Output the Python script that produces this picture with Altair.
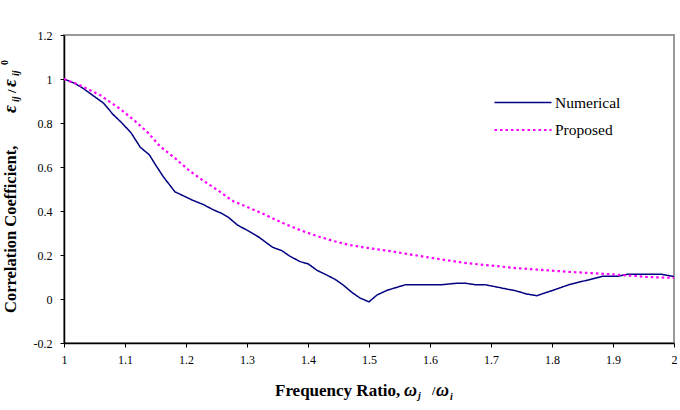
import altair as alt
import pandas as pd

FONT = "Liberation Serif"

# ---- data ----
num_x = [1.000, 1.018, 1.030, 1.050, 1.065, 1.080, 1.095, 1.110, 1.125, 1.140, 1.150, 1.163,
         1.182, 1.195, 1.210, 1.228, 1.245, 1.258, 1.270, 1.285, 1.302, 1.320, 1.342, 1.357,
         1.370, 1.387, 1.400, 1.415, 1.430, 1.444, 1.457, 1.472, 1.485, 1.500, 1.513, 1.530,
         1.560, 1.620, 1.645, 1.657, 1.674, 1.690, 1.707, 1.726, 1.740, 1.758, 1.775, 1.802,
         1.830, 1.857, 1.882, 1.907, 1.923, 1.980, 2.000]
num_y = [1.000, 0.980, 0.960, 0.920, 0.890, 0.840, 0.800, 0.755, 0.690, 0.655, 0.610, 0.555,
         0.487, 0.470, 0.450, 0.430, 0.405, 0.390, 0.370, 0.335, 0.310, 0.280, 0.235, 0.220,
         0.195, 0.170, 0.160, 0.130, 0.110, 0.090, 0.065, 0.030, 0.005, -0.013, 0.018, 0.040,
         0.065, 0.065, 0.072, 0.072, 0.065, 0.065, 0.056, 0.045, 0.038, 0.023, 0.015, 0.040,
         0.067, 0.085, 0.103, 0.103, 0.112, 0.112, 0.102]

prop_x = [1.000, 1.025, 1.059, 1.092, 1.116, 1.138, 1.157, 1.182, 1.207, 1.231, 1.256, 1.277,
          1.305, 1.332, 1.359, 1.387, 1.415, 1.441, 1.469, 1.502, 1.534, 1.595, 1.660, 1.743,
          1.830, 1.900, 1.956, 2.000]
prop_y = [1.000, 0.973, 0.927, 0.864, 0.810, 0.755, 0.695, 0.640, 0.580, 0.533, 0.487, 0.445,
          0.413, 0.380, 0.345, 0.313, 0.286, 0.264, 0.245, 0.230, 0.218, 0.190, 0.163, 0.140,
          0.123, 0.112, 0.100, 0.096]

series_names = ["Numerical", "Proposed"]
x_ticks = [1.0, 1.1, 1.2, 1.3, 1.4, 1.5, 1.6, 1.7, 1.8, 1.9, 2.0]
y_ticks = [-0.2, 0.0, 0.2, 0.4, 0.6, 0.8, 1.0, 1.2]

df = pd.concat([
    pd.DataFrame({"x": num_x, "y": num_y, "series": series_names[0]}),
    pd.DataFrame({"x": prop_x, "y": prop_y, "series": series_names[1]}),
], ignore_index=True)

W, H = 610, 308

legend = alt.Legend(
    orient="none", legendX=429, legendY=57, title=None,
    symbolType="M-3,0H3", symbolSize=361, symbolStrokeWidth=1.6, symbolOffset=19,
    labelFont=FONT, labelFontSize=15.5, labelColor="black", labelOffset=21,
    rowPadding=8, padding=0,
)

lines = alt.Chart(df).mark_line(clip=False).encode(
    x=alt.X("x:Q", scale=alt.Scale(domain=[1, 2], nice=False, zero=False),
            axis=alt.Axis(values=x_ticks, title=None, labelFont=FONT,
                          labelExpr="toString(round(datum.value*10)/10)")),
    y=alt.Y("y:Q", scale=alt.Scale(domain=[-0.2, 1.2], nice=False, zero=False),
            axis=alt.Axis(values=y_ticks, title=None, labelFont=FONT,
                          labelExpr="toString(round(datum.value*10)/10)")),
    color=alt.Color("series:N", scale=alt.Scale(domain=series_names, range=["#000080", "#FF00FF"]),
                    legend=legend),
    strokeDash=alt.StrokeDash("series:N", scale=alt.Scale(domain=series_names, range=[[1, 0], [2.5, 3]]),
                              legend=legend),
    strokeWidth=alt.StrokeWidth("series:N", scale=alt.Scale(domain=series_names, range=[1.5, 2.2]),
                                legend=None),
    order="x:Q",
)


def piece(text, x, y, size=16, style="normal", angle=0):
    return alt.Chart(pd.DataFrame({"t": [text]})).mark_text(
        font=FONT, fontSize=size, fontStyle=style, fontWeight="bold",
        angle=angle, align="left", baseline="alphabetic", color="black",
    ).encode(x=alt.value(x), y=alt.value(y), text="t:N")


titles = [
    # x-axis title
    piece("Frequency Ratio,", 211, 361, 17),
    piece("ω", 340, 361, 18, "italic"),
    piece("j", 354, 364, 10, "italic"),
    piece("/", 368, 360, 12),
    piece("ω", 372, 361, 18, "italic"),
    piece("i", 386, 365, 10, "italic"),
    # y-axis title (rotated)
    piece("Correlation Coefficient,", -48, 278, 16.5, angle=270),
    piece("ε", -48, 78, 19, "italic", angle=270),
    piece("ij", -45, 67, 10, "italic", angle=270),
    piece("/", -48, 58, 13, angle=270),
    piece("ε", -48, 52, 19, "italic", angle=270),
    piece("ij", -45, 41, 10, "italic", angle=270),
    piece("0", -56, 30, 10, angle=270),
]

chart = alt.layer(lines, *titles).properties(
    width=W, height=H,
    autosize=alt.AutoSizeParams(type="none"),
    padding={"left": 64, "top": 35, "right": 6, "bottom": 67},
    background="white",
).configure(
    font=FONT,
).configure_view(
    stroke="#999999", strokeWidth=2,
).configure_axis(
    domainColor="black", domainWidth=1.5, tickColor="black", tickSize=4, tickWidth=1,
    labelFont=FONT, labelFontSize=12, labelColor="black", grid=False,
    labelFlush=False, labelOverlap=False,
).configure_legend(
    labelFont=FONT,
).configure_axisX(labelPadding=7).configure_axisY(labelPadding=8)

chart.save("out.html", embed_options={"renderer": "svg", "actions": False})
